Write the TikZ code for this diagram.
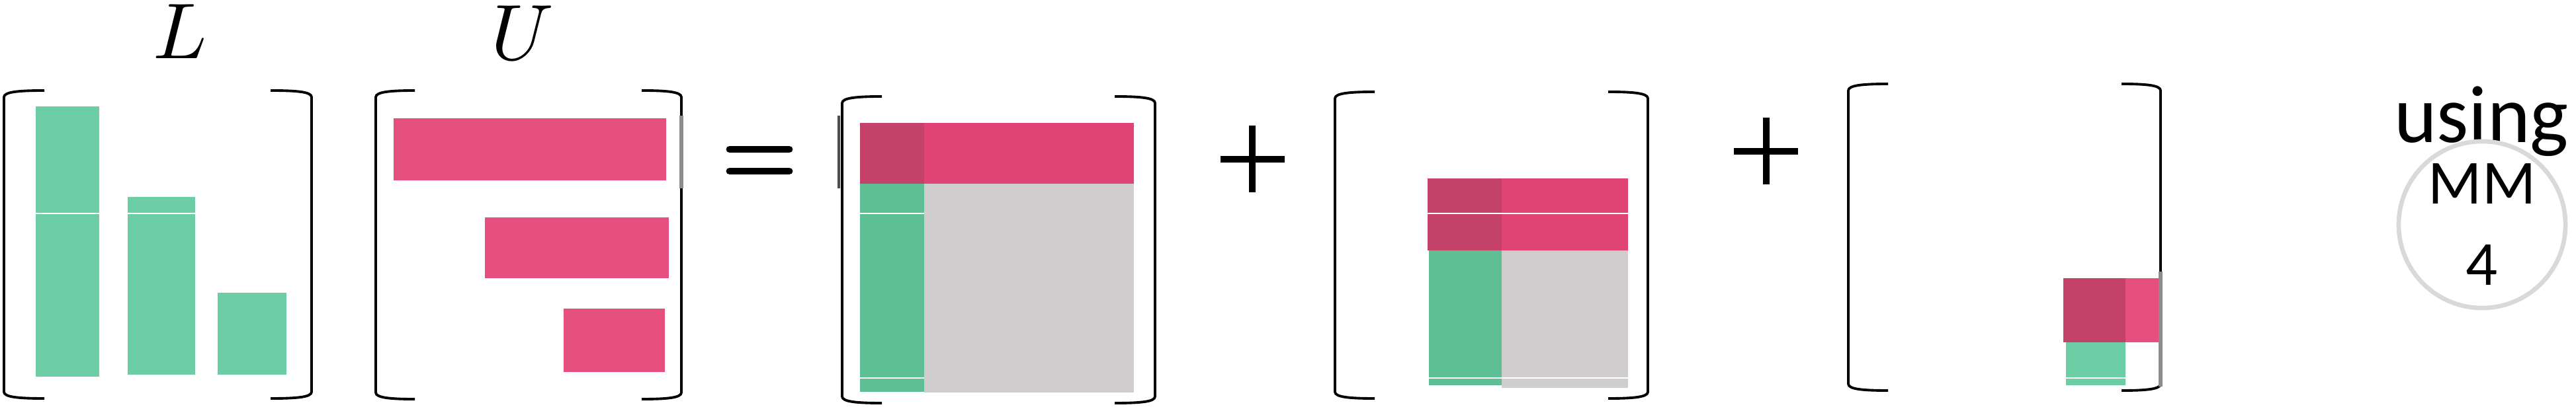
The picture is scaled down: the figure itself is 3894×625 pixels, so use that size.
\documentclass[tikz,border=0pt]{standalone}
\usepackage{unicode-math}
\newfontfamily\carlito{Carlito}
\definecolor{Lgreen}{HTML}{6DCDA4}
\definecolor{Upink}{HTML}{E6507F}
\definecolor{Pgreen}{HTML}{5EBF95}
\definecolor{Ppink}{HTML}{DF4474}
\definecolor{Pdark}{HTML}{C4426A}
\definecolor{Pgray}{HTML}{CFCDCE}
\definecolor{circgray}{HTML}{D9D9D9}
\newcommand\mylbrk[4]{% x, serif end, ytop, ybot
  \draw[brk] (#2,#3) .. controls (#1+22,#3) and (#1,#3+2) .. (#1,#3+10) -- (#1,#4-10) .. controls (#1,#4-2) and (#1+22,#4) .. (#2,#4);}
\newcommand\myrbrk[4]{% x, serif start, ytop, ybot
  \draw[brk] (#2,#3) .. controls (#1-22,#3) and (#1,#3+2) .. (#1,#3+10) -- (#1,#4-10) .. controls (#1,#4-2) and (#1-22,#4) .. (#2,#4);}
\begin{document}
\begin{tikzpicture}[x=0.01cm,y=-0.01cm,
  brk/.style={line width=1.1pt, black, line join=round},
  wline/.style={white, line width=0.3pt},
  gseg/.style={line width=1.8pt, black!45},
  dseg/.style={line width=1pt, black!70},
  opline/.style={line width=3.1pt, black},
  lbl/.style={font=\fontsize{34}{40}\selectfont, inner sep=0pt},
  txt/.style={font=\carlito\fontsize{35}{42}\selectfont, inner sep=0pt}]
\useasboundingbox (0,0) rectangle (3894,625);

% ---------- L ----------
\node[lbl, anchor=base] (labL) at (272,89) {$L$};
\mylbrk{6}{67}{137}{603}
\myrbrk{471}{409}{137}{603}
\fill[Lgreen] (54,161) rectangle (150,570);
\fill[Lgreen] (193,298) rectangle (295,567);
\fill[Lgreen] (329,443) rectangle (433,567);
\draw[wline] (54,323) -- (150,323);
\draw[wline] (193,323) -- (295,323);

% ---------- U ----------
\node[lbl, anchor=base] (labU) at (790,91) {$U$};
\mylbrk{568}{627}{137}{604}
\myrbrk{1030}{970}{137}{604}
\fill[Upink] (595,179) rectangle (1007,273);
\fill[Upink] (733,329) rectangle (1011,421);
\fill[Upink] (852,467) rectangle (1005,563);
\draw[gseg] (1030,175) -- (1030,285);

% ---------- = ----------
\draw[opline, line cap=round] (1103,226) -- (1193,226);
\draw[opline, line cap=round] (1103,259) -- (1193,259);

% ---------- term 1 ----------
\mylbrk{1273}{1333}{146}{610}
\myrbrk{1746}{1685}{146}{610}
\draw[dseg] (1268,175) -- (1268,285);
\fill[Pgreen] (1300,186) rectangle (1397,593);
\fill[Pgray] (1397,278) rectangle (1714,594);
\fill[Ppink] (1397,186) rectangle (1714,278);
\fill[Pdark] (1300,186) rectangle (1397,278);
\draw[wline] (1300,323) -- (1397,323);
\draw[wline] (1300,572) -- (1397,572);

% ---------- + ----------
\draw[opline] (1893,190) -- (1893,291);
\draw[opline] (1845,241) -- (1942,241);

% ---------- term 2 ----------
\mylbrk{2018}{2078}{139}{603}
\myrbrk{2491}{2431}{139}{603}
\fill[Pgreen] (2160,379) rectangle (2270,583);
\fill[Pgray] (2270,379) rectangle (2461,587);
\fill[Ppink] (2270,270) rectangle (2461,379);
\fill[Pdark] (2158,270) rectangle (2270,379);
\draw[wline] (2158,323) -- (2461,323);
\draw[wline] (2158,572) -- (2461,572);

% ---------- + ----------
\draw[opline] (2670,178) -- (2670,279);
\draw[opline] (2621,229) -- (2718,229);

% ---------- term 3 ----------
\mylbrk{2794}{2854}{127}{591}
\myrbrk{3266}{3207}{127}{591}
\fill[Lgreen] (3123,518) rectangle (3213,583);
\fill[Upink] (3213,421) rectangle (3266,518);
\fill[Pdark] (3119,421) rectangle (3213,518);
\draw[wline] (3123,572) -- (3213,572);
\draw[gseg] (3266,411) -- (3266,585);

% ---------- using MM 4 ----------
\node[txt, anchor=base] (using) at (3751,216) {using};
\node[circle, draw=circgray, line width=1.9pt, minimum size=2.52cm, inner sep=0pt,
      align=center, font=\carlito\fontsize{27}{35}\selectfont] (mm) at (3752,340) {MM\\4};
\end{tikzpicture}
\end{document}
